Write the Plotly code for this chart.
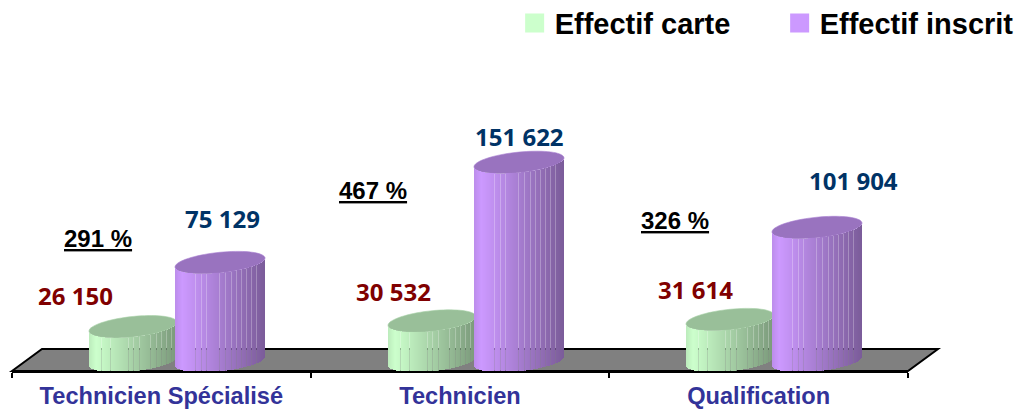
import math
import plotly.graph_objects as go

# ---- data ----
categories = ["Technicien Spécialisé", "Technicien", "Qualification"]
effectif_carte = [26150, 30532, 31614]
effectif_inscrit = [75129, 151622, 101904]
taux = ["291 %", "467 %", "326 %"]

# ---- layout constants (pixels) ----
W, H = 1019, 409
PL, PR, PB = 12, 908, 371
BASE_PX = 361.0
PX_PER_UNIT = 0.00131
CAT_PX = (PR - PL) / 3
TILT, MINOR = 4.4, 10.3

SERIES = [
    dict(name="Effectif carte", vals=effectif_carte, rgb=(204, 255, 204), off=-28.5, a=44,
         slits=[12, 21, 39, 44, 50, 61, 67, 72, 77, 82], top=0.75),
    dict(name="Effectif inscrit", vals=effectif_inscrit, rgb=(204, 153, 255), off=58.5, a=45,
         slits=[20, 26, 31, 44, 50, 56, 61, 66, 71, 76, 81], top=0.75),
]

def shade(rgb, f):
    return "rgb(%d,%d,%d)" % tuple(round(c * f) for c in rgb)

def grad(t):
    return 0.92 + t / 0.08 * 0.08 if t < 0.08 else 1 - (t - 0.08) / 0.92 * 0.40

def px_to_x(px):
    return (px - PL) / CAT_PX - 0.5

def dy(px):
    return px / PX_PER_UNIT

fig = go.Figure()
shapes = []

# floor (below everything)
def fp(x, y):
    return "%.5f,%.5f" % ((x - PL) / (PR - PL), (PB - y) / PB)
shapes.append(dict(type="path", xref="paper", yref="paper", layer="below",
                   path="M" + fp(12, 371) + " L" + fp(42, 349) + " L" + fp(938, 349) + " L" + fp(908, 371) + " Z",
                   fillcolor="#808080", line=dict(color="black", width=2)))

for s in SERIES:
    n = 2 * s["a"]
    xs, bases, ys, cols, ops = [], [], [], [], []
    for c, v in enumerate(s["vals"]):
        cpx = PL + CAT_PX * (c + 0.5) + s["off"]
        left = round(cpx - s["a"])
        for i in range(n):
            u = (i + 0.5 - s["a"]) / s["a"]
            # front arc of the cylinder section
            off_px = MINOR * math.sqrt(max(0, 1 - u * u)) - TILT * u
            xs.append(px_to_x(left + i + 0.5))
            bases.append(-dy(off_px))
            ys.append(v)
            cols.append(shade(s["rgb"], grad((i + 0.5) / n)))
            ops.append(0.74 if i in s["slits"] else 1)
        # top ellipse
        pts = []
        for k in range(73):
            t = 2 * math.pi * k / 72
            pts.append("%.5f,%.1f" % (px_to_x(left + s["a"] + s["a"] * math.cos(t)),
                                      v + dy(MINOR * math.sin(t) + TILT * math.cos(t))))
        shapes.append(dict(type="path", xref="x", yref="y", layer="below",
                           path="M" + " L".join(pts) + " Z",
                           fillcolor=shade(s["rgb"], s["top"]),
                           line=dict(color=shade(s["rgb"], 0.82), width=0.6)))
    fig.add_trace(go.Bar(x=xs, y=ys, base=bases, width=1 / CAT_PX, showlegend=False, hoverinfo="skip",
                         marker=dict(color=cols, opacity=ops, line=dict(width=0))))
    # legend entry
    fig.add_trace(go.Scatter(x=[None], y=[None], mode="markers", name=s["name"],
                             marker=dict(symbol="square", size=16, color=shade(s["rgb"], 1),
                                         line=dict(color=shade(s["rgb"], 1), width=3))))

annos = []
def label(c, val, off, xs, ys, color, text, font):
    annos.append(dict(x=c + off / CAT_PX, y=val, xref="x", yref="y", xshift=xs, yshift=ys, showarrow=False,
                      text=text, font=dict(color=color, **font), xanchor="center", yanchor="middle"))

vf = dict(family="Open Sans", size=24)
pf = dict(family="Liberation Sans", size=24)
carte_shift = [(-57, 31), (-38, 29.5), (-35, 29.6)]
inscrit_shift = [(3, 43.6), (1, 25.4), (36, 47)]
taux_shift = [(-63.5, 23.6), (-87.5, -28.6), (-83.5, 7.5)]
fmt = lambda v: f"{v:,}".replace(",", " ")
for c in range(3):
    label(c, effectif_carte[c], -28.5, *carte_shift[c], "#800000", "<b>%s</b>" % fmt(effectif_carte[c]), vf)
    label(c, effectif_inscrit[c], 58.5, *inscrit_shift[c], "#003366", "<b>%s</b>" % fmt(effectif_inscrit[c]), vf)
    label(c, effectif_inscrit[c], 0, *taux_shift[c], "black", "<b><u>%s</u></b>" % taux[c], pf)

fig.update_layout(
    width=W, height=H, margin=dict(l=PL, r=W - PR, t=0, b=H - PB, pad=0, autoexpand=False),
    paper_bgcolor="white", plot_bgcolor="rgba(0,0,0,0)",
    barmode="overlay", bargap=0, shapes=shapes, annotations=annos,
    xaxis=dict(range=[-0.5, 2.5], tickvals=[0, 1, 2], ticktext=categories, ticks="", showgrid=False, zeroline=False,
               showline=True, linecolor="black", linewidth=2, ticklabelstandoff=3, automargin=False,
               tickfont=dict(family="Liberation Sans", size=23.6, color="#333399", weight="bold"),
               minor=dict(tickvals=[-0.5, 0.5, 1.5, 2.5], ticks="outside", ticklen=5, tickcolor="black", tickwidth=1.5, showgrid=False)),
    yaxis=dict(range=[-(PB - BASE_PX) / PX_PER_UNIT, BASE_PX / PX_PER_UNIT], visible=False),
    legend=dict(orientation="h", x=0.561, y=1.006, xanchor="left", yanchor="top", entrywidth=220, entrywidthmode="pixels",
                font=dict(family="Liberation Sans", size=29, color="black", weight="bold"), bgcolor="rgba(0,0,0,0)"),
)
fig.write_html("out.html", post_script="document.body.style.margin='0';", config=dict(displayModeBar=False))
